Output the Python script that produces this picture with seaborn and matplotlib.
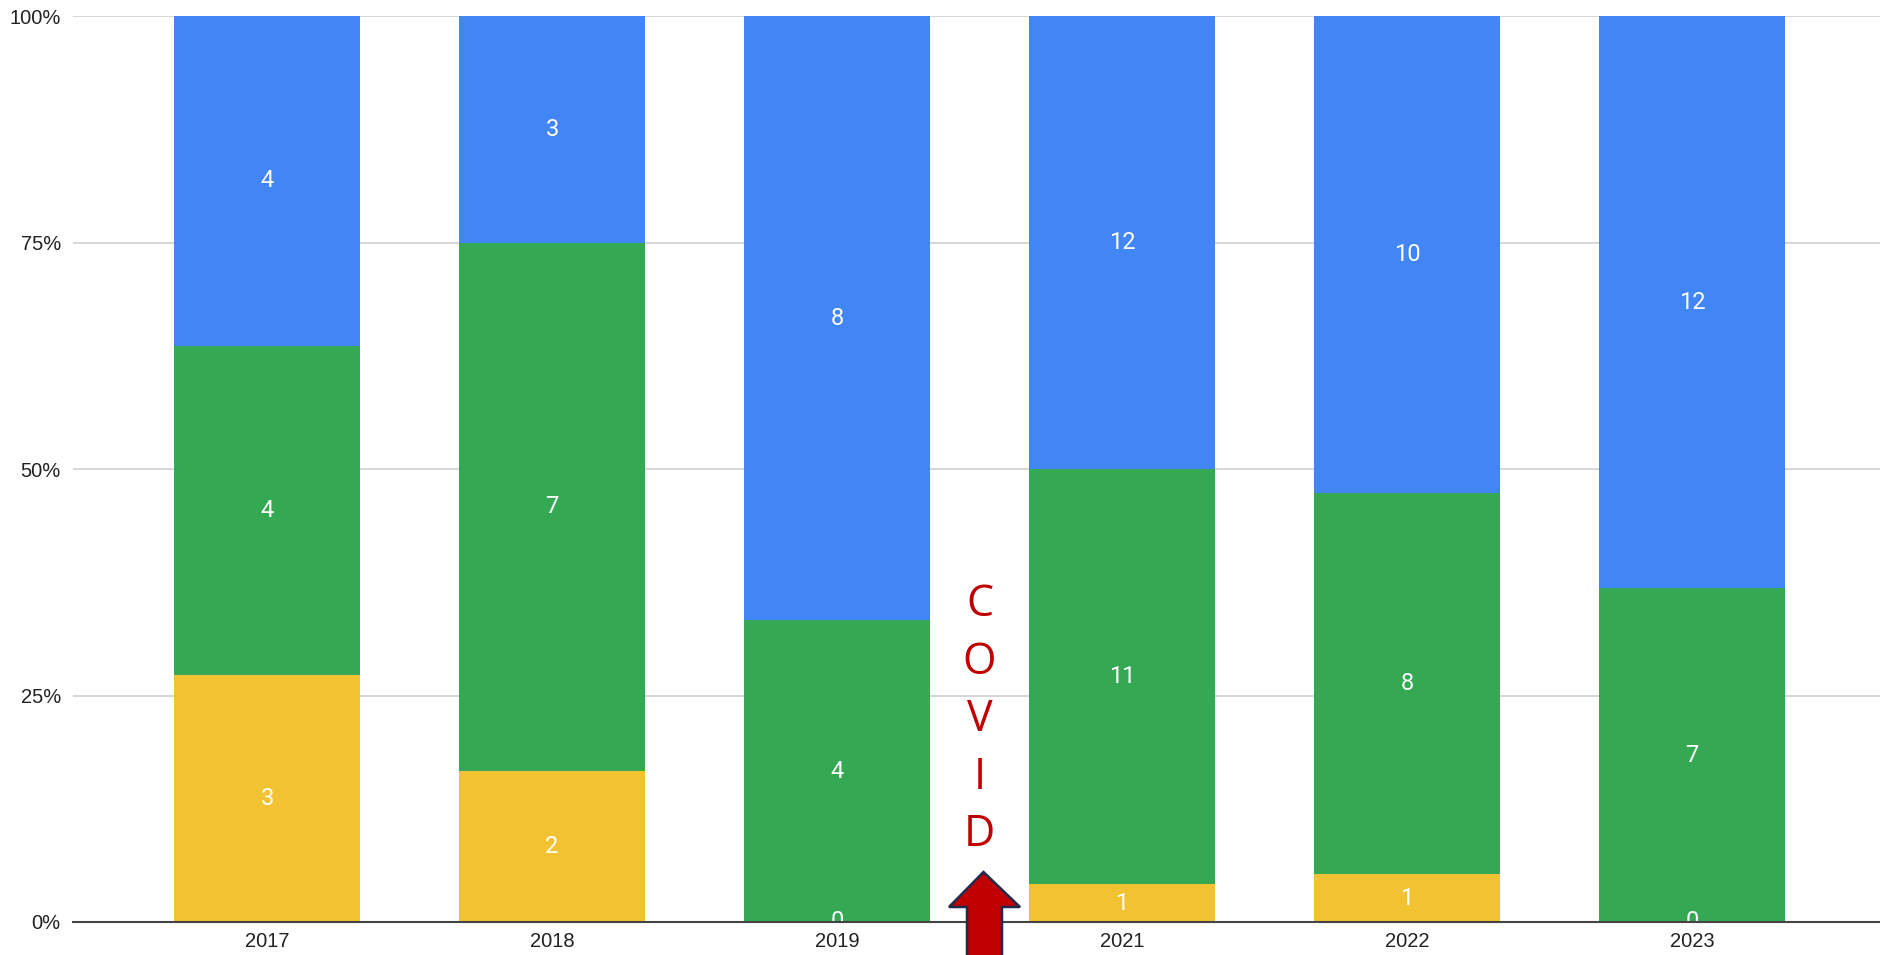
import numpy as np
import pandas as pd
import matplotlib.pyplot as plt
from matplotlib.patches import Polygon
from matplotlib.ticker import PercentFormatter
import seaborn as sns

# data
years = ["2017", "2018", "2019", "2021", "2022", "2023"]
yellow = [3, 2, 0, 1, 1, 0]
green = [4, 7, 4, 11, 8, 7]
blue = [4, 3, 8, 12, 10, 12]

YELLOW = "#F1C232"
GREEN = "#34A853"
BLUE = "#4285F4"

sns.set_theme(style="white")
plt.rcParams["font.family"] = ["Liberation Sans", "DejaVu Sans"]

df = pd.DataFrame({"year": years, "yellow": yellow, "green": green, "blue": blue})
total = df[["yellow", "green", "blue"]].sum(axis=1)
df["p_yellow"] = df["yellow"] / total * 100
df["p_green"] = df["green"] / total * 100
df["p_blue"] = df["blue"] / total * 100
df["top_green"] = df["p_yellow"] + df["p_green"]
df["top_blue"] = df["top_green"] + df["p_blue"]

fig = plt.figure(figsize=(18.8, 9.55), dpi=100)
ax = fig.add_axes([0.039, 0.0346, 0.961, 0.9484])

# overlay cumulative bars: blue (full), green, yellow
sns.barplot(data=df, x="year", y="top_blue", color=BLUE, width=0.65,
            saturation=1, ax=ax, zorder=2)
sns.barplot(data=df, x="year", y="top_green", color=GREEN, width=0.65,
            saturation=1, ax=ax, zorder=3)
sns.barplot(data=df, x="year", y="p_yellow", color=YELLOW, width=0.65,
            saturation=1, ax=ax, zorder=4)
for p in ax.patches:
    p.set_linewidth(0)

# value labels in the middle of each segment
for i, row in df.iterrows():
    segs = [(row["yellow"], 0, row["p_yellow"]),
            (row["green"], row["p_yellow"], row["top_green"]),
            (row["blue"], row["top_green"], row["top_blue"])]
    for val, lo, hi in segs:
        ax.text(i, (lo + hi) / 2, f"{val}", ha="center", va="center",
                color="white", fontsize=17, family=["Roboto", "DejaVu Sans"],
                zorder=6, clip_on=True)

ax.set_xlim(-0.68, 5.66)
ax.set_ylim(0, 100)
ax.set_yticks([0, 25, 50, 75, 100])
ax.yaxis.set_major_formatter(PercentFormatter(decimals=0))
ax.grid(axis="y", color="#d0d0d0", linewidth=1.2, zorder=0)
ax.set_axisbelow(True)
for s in ["top", "right", "left"]:
    ax.spines[s].set_visible(False)
ax.spines["bottom"].set_color("#444444")
ax.spines["bottom"].set_linewidth(1.5)
ax.spines["bottom"].set_zorder(7)
ax.tick_params(axis="both", length=0, labelsize=14.5, colors="#222222")
ax.tick_params(axis="x", pad=7)
ax.tick_params(axis="y", pad=9)
ax.set_xlabel("")
ax.set_ylabel("")

# COVID annotation between 2019 and 2021
ax.text(2.5, 22.3, "C\nO\nV\nI\nD", ha="center", va="center", color="#C00000",
        fontsize=31, linespacing=1.39, family=["Open Sans", "DejaVu Sans"],
        zorder=8)

arrow = Polygon([(9.835, 0.83), (10.20, 0.48), (10.02, 0.48), (10.02, -0.2),
                 (9.67, -0.2), (9.67, 0.48), (9.49, 0.48)], closed=True,
                transform=fig.dpi_scale_trans, facecolor="#C00000",
                edgecolor="#1F2A4D", linewidth=1.8, clip_on=False, zorder=10)
fig.add_artist(arrow)

fig.savefig("out.png", dpi=100)
